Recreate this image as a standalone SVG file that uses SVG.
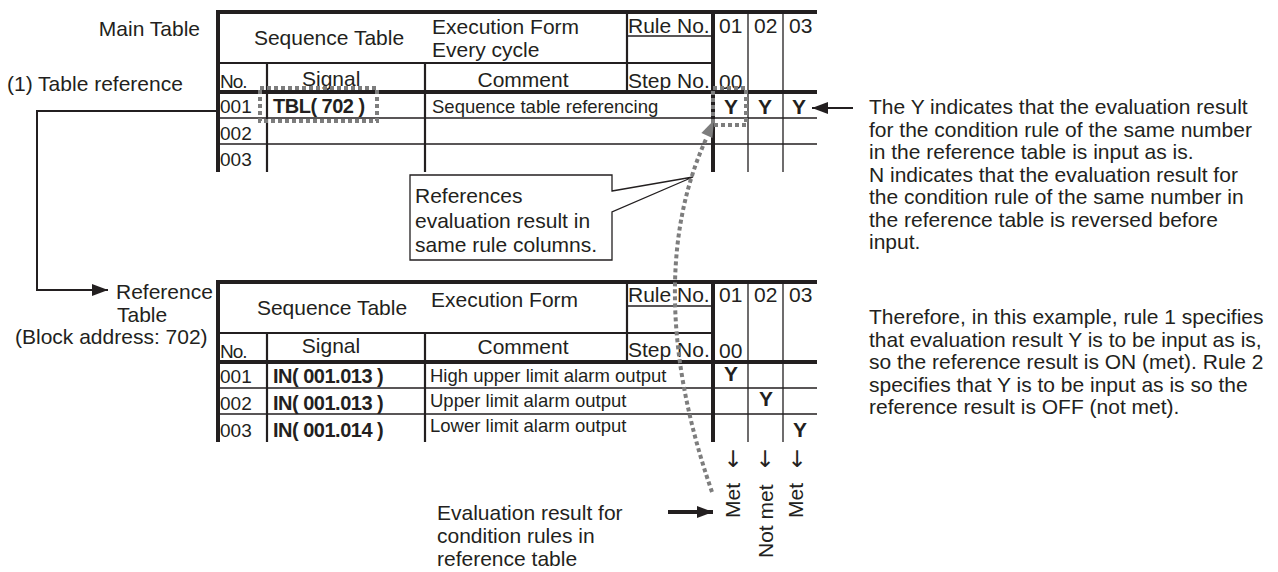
<svg xmlns="http://www.w3.org/2000/svg" width="1278" height="572" viewBox="0 0 1278 572">
<style>
text{font-family:"Liberation Sans",Arial,sans-serif;fill:#231f20;font-size:21px}
.s{font-size:18.5px}
.n{font-size:19px}
.b{font-weight:bold;font-size:20px;letter-spacing:-0.5px}
.y{font-weight:bold;font-size:21px;text-anchor:middle}
.c{text-anchor:middle}
.r{text-anchor:end}
.tk{stroke:#231f20;stroke-width:4;fill:none}
.md{stroke:#231f20;stroke-width:2.2;fill:none}
.tn{stroke:#231f20;stroke-width:1.3;fill:none}
.dot{stroke:#7d7d7d;stroke-width:4;stroke-dasharray:4 3;fill:none}
.ln{stroke:#231f20;stroke-width:2;fill:none}
.ar{font-family:"DejaVu Sans",sans-serif;font-size:23px;text-anchor:middle;fill:#231f20}
</style>
<defs>
<marker id="ah" markerWidth="16" markerHeight="12" refX="16" refY="6" orient="auto" markerUnits="userSpaceOnUse" viewBox="0 0 16 12">
<path d="M0,0 L16,6 L0,12 Z" fill="#231f20"/>
</marker>
<marker id="ah2" markerWidth="16" markerHeight="12" refX="16" refY="6" orient="auto" markerUnits="userSpaceOnUse" viewBox="0 0 16 12">
<path d="M0,0 L16,6 L0,12 Z" fill="#231f20"/>
</marker>
</defs>

<g id="labels">
<text class="r" x="200" y="36">Main Table</text>
<text x="7" y="91">(1) Table reference</text>
<text x="116" y="299">Reference</text>
<text x="117" y="322">Table</text>
<text x="15" y="344">(Block address: 702)</text>
</g>

<g id="main-table">
<path class="tk" d="M216,12 H817 M218,12 V172 M713,12 V172"/>
<path class="md" d="M218,63 H713 M627,12 V92 M267,63 V172 M425,63 V172"/>
<path class="tk" d="M218,92 H817"/>
<path class="tn" d="M627,36 H713 M748,12 V172 M783,12 V172 M218,118 H817 M218,144 H817"/>
<text class="c" x="329" y="45">Sequence Table</text>
<text x="432" y="34">Execution Form</text>
<text x="432" y="57">Every cycle</text>
<text x="628" y="33">Rule No.</text>
<text x="719" y="33">01</text>
<text x="754" y="33">02</text>
<text x="789" y="33">03</text>
<text class="n" x="220" y="88" letter-spacing="-1">No.</text>
<text x="302" y="86">Signal</text>
<text class="c" x="523" y="87">Comment</text>
<text x="628" y="88">Step No.</text>
<text x="719" y="89">00</text>
<text class="n" x="220" y="113">001</text>
<text class="b" x="273" y="113">TBL( 702 )</text>
<text class="s" x="432" y="113">Sequence table referencing</text>
<text class="y" x="731" y="114">Y</text>
<text class="y" x="765" y="114">Y</text>
<text class="y" x="799" y="114">Y</text>
<text class="n" x="220" y="140">002</text>
<text class="n" x="220" y="166">003</text>
</g>

<g id="reference-table">
<path class="tk" d="M216,282 H817 M218,282 V442 M713,282 V442"/>
<path class="md" d="M218,333 H713 M627,282 V362 M267,333 V442 M425,333 V442"/>
<path class="tk" d="M218,362 H817"/>
<path class="tn" d="M627,306 H713 M748,282 V442 M783,282 V442 M218,388 H817 M218,414 H817"/>
<text class="c" x="332" y="315">Sequence Table</text>
<text x="431" y="307">Execution Form</text>
<text x="628" y="302">Rule No.</text>
<text x="719" y="302">01</text>
<text x="754" y="302">02</text>
<text x="789" y="302">03</text>
<text class="n" x="220" y="358" letter-spacing="-1">No.</text>
<text class="c" x="331" y="353">Signal</text>
<text class="c" x="523" y="354">Comment</text>
<text x="628" y="357">Step No.</text>
<text x="719" y="358">00</text>
<text class="n" x="220" y="383">001</text>
<text class="b" x="273" y="383">IN( 001.013 )</text>
<text class="s" x="430" y="382">High upper limit alarm output</text>
<text class="y" x="731" y="381">Y</text>
<text class="n" x="220" y="410">002</text>
<text class="b" x="273" y="410">IN( 001.013 )</text>
<text class="s" x="430" y="407">Upper limit alarm output</text>
<text class="y" x="766" y="406">Y</text>
<text class="n" x="220" y="437">003</text>
<text class="b" x="273" y="437">IN( 001.014 )</text>
<text class="s" x="430" y="432">Lower limit alarm output</text>
<text class="y" x="800" y="437">Y</text>
</g>

<g id="results">
<text class="ar" x="733" y="467">↓</text>
<text class="ar" x="765" y="467">↓</text>
<text class="ar" x="797" y="467">↓</text>
<text transform="translate(740,518) rotate(-90)">Met</text>
<text transform="translate(773,558) rotate(-90)">Not met</text>
<text transform="translate(803,518) rotate(-90)">Met</text>
</g>

<g id="callout">
<path d="M612,191 L693,177 L612,212 L612,260 L410,260 L410,175 L612,175 Z" fill="#fff" stroke="#231f20" stroke-width="1.3"/>
<text x="415" y="203">References</text>
<text x="415" y="228">evaluation result in</text>
<text x="415" y="252">same rule columns.</text>
</g>

<g id="eval-note">
<text x="437" y="520">Evaluation result for</text>
<text x="437" y="543">condition rules in</text>
<text x="437" y="566">reference table</text>
</g>

<g id="explanation">
<text x="869" y="114">The Y indicates that the evaluation result</text>
<text x="869" y="136.5">for the condition rule of the same number</text>
<text x="869" y="159">in the reference table is input as is.</text>
<text x="869" y="181.5">N indicates that the evaluation result for</text>
<text x="869" y="204">the condition rule of the same number in</text>
<text x="869" y="226.5">the reference table is reversed before</text>
<text x="869" y="249">input.</text>
<text x="869" y="324">Therefore, in this example, rule 1 specifies</text>
<text x="869" y="346.5">that evaluation result Y is to be input as is,</text>
<text x="869" y="369">so the reference result is ON (met). Rule 2</text>
<text x="869" y="391.5">specifies that Y is to be input as is so the</text>
<text x="869" y="414">reference result is OFF (not met).</text>
</g>

<g id="connectors">
<path class="ln" d="M218,111 H37 V290 H108" marker-end="url(#ah)"/>
<path class="ln" d="M853,108 H812" marker-end="url(#ah)"/>
<path d="M668,512 H713" stroke="#231f20" stroke-width="4" fill="none" marker-end="url(#ah2)"/>
<rect class="dot" x="260" y="88" width="117" height="33"/>
<rect class="dot" x="713" y="88" width="33" height="37"/>
<path class="dot" d="M712,492 C680,400 650,260 707,137"/>
<polygon points="714,120 701.4,133 712.4,138" fill="#7d7d7d"/>
</g>
</svg>
